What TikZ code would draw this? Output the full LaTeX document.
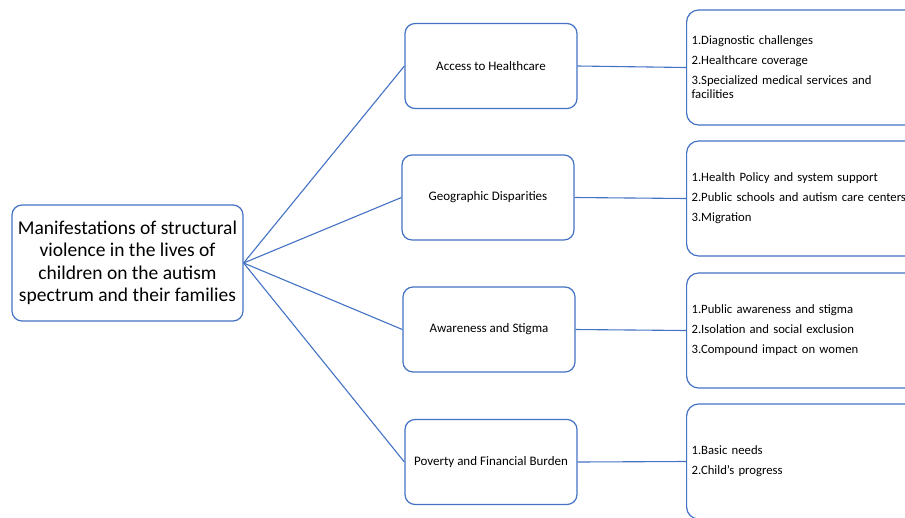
\documentclass[tikz,border=0pt]{standalone}
\usepackage{fontspec}
\setmainfont{Carlito}
\definecolor{boxblue}{HTML}{4472C4}
\begin{document}
\begin{tikzpicture}[x=1pt,y=-1pt,
  box/.style={draw=boxblue,line width=1.2pt,rounded corners=10pt,fill=white},
  rootbox/.style={box,minimum width=231pt,minimum height=116pt,align=center,
    font=\fontsize{19.5}{22.5}\selectfont,inner sep=2pt},
  midbox/.style={box,minimum width=172pt,minimum height=85pt,font=\fontsize{13}{15}\selectfont},
  detbox/.style={box,rounded corners=12pt,anchor=west,minimum height=115pt,text width=250pt,
    inner xsep=5pt,align=left,font=\fontsize{12.7}{14}\selectfont},
  link/.style={draw=boxblue,line width=1.1pt}]
\useasboundingbox (0,0) rectangle (905,517);
\clip (0,0) rectangle (905,517);
\fill[white] (0,0) rectangle (905,517);

\node[rootbox] (root) at (127.5,263) {Manifestations of structural\\violence in the lives of\\children on the autism\\spectrum and their families};

\node[midbox] (m1) at (491,66) {Access to Healthcare};
\node[midbox] (m2) at (488,197.5) {Geographic Disparities};
\node[midbox] (m3) at (489,329.5) {Awareness and Stigma};
\node[midbox] (m4) at (491,462) {Poverty and Financial Burden};

\node[detbox] (d1) at (686,67.5) {1.Diagnostic challenges\\[6pt]2.Healthcare coverage\\[6pt]3.Specialized medical services and\\facilities};
\node[detbox] (d2) at (686,198.5) {1.Health Policy and system support\\[6pt]2.Public schools and autism care centers\\[6pt]3.Migration};
\node[detbox] (d3) at (686,330.5) {1.Public awareness and stigma\\[6pt]2.Isolation and social exclusion\\[6pt]3.Compound impact on women};
\node[detbox] (d4) at (686,461.5) {1.Basic needs\\[6pt]2.Child's progress};

\draw[link] (root.east) -- (m1.west);
\draw[link] (root.east) -- (m2.west);
\draw[link] (root.east) -- (m3.west);
\draw[link] (root.east) -- (m4.west);
\draw[link] (m1.east) -- (d1.west);
\draw[link] (m2.east) -- (d2.west);
\draw[link] (m3.east) -- (d3.west);
\draw[link] (m4.east) -- (d4.west);
\end{tikzpicture}
\end{document}
